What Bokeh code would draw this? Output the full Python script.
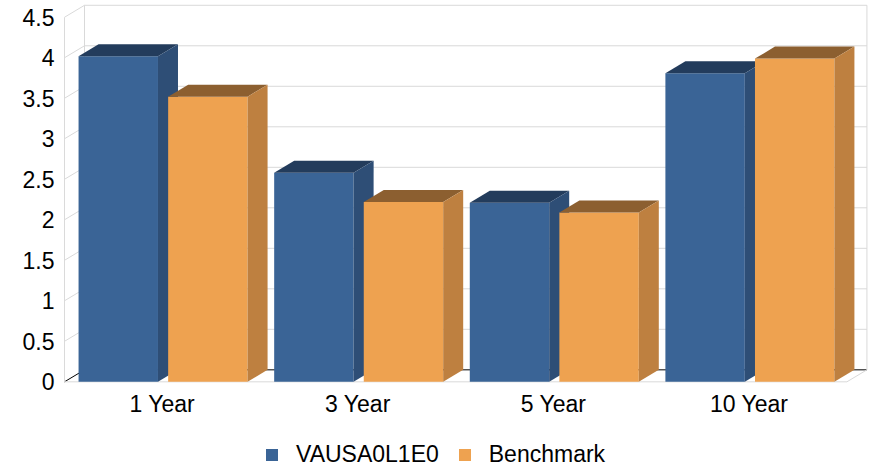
from bokeh.plotting import figure
from bokeh.models import Range1d, FixedTicker, Legend, LegendItem
from bokeh.embed import file_html
from bokeh.resources import INLINE

# ---- data ----
categories = ["1 Year", "3 Year", "5 Year", "10 Year"]
series_names = ["VAUSA0L1E0", "Benchmark"]
fund_values = [4.02, 2.58, 2.21, 3.81]
bench_values = [3.52, 2.22, 2.09, 3.99]
y_ticks = [0, 0.5, 1, 1.5, 2, 2.5, 3, 3.5, 4, 4.5]
y_labels = ["0", "0.5", "1", "1.5", "2", "2.5", "3", "3.5", "4", "4.5"]

# ---- style / geometry ----
FONT = "Liberation Sans"
FS = "23px"
DX = 0.1023    # depth offset in x units
DY = 0.148     # depth offset in y units
GRID = "#d9d9d9"
fund_cols = ("#3a6496", "#233c5c", "#2e4e76")     # front, top, side
bench_cols = ("#eea250", "#8c5f30", "#be8040")
fund_off = (-0.428, -0.022)
bench_off = (0.030, 0.436)

p = figure(width=870, height=468, output_backend="svg", toolbar_location=None,
           x_range=Range1d(-0.505, 3.5 + DX + 0.008), y_range=Range1d(-1.07, 4.67),
           min_border_left=63, min_border_right=2, min_border_top=3, min_border_bottom=0)
p.outline_line_color = None
p.xgrid.visible = False
p.ygrid.visible = False
p.background_fill_color = "white"

xl, xr = -0.5, 3.5
top = y_ticks[-1]

# back wall gridlines and left wall diagonals
for v in y_ticks:
    col = "black" if v == 0 else GRID
    p.segment(x0=[xl + DX], y0=[v + DY], x1=[xr + DX], y1=[v + DY], line_color=col, line_width=1)
    p.segment(x0=[xl], y0=[v], x1=[xl + DX], y1=[v + DY], line_color=col, line_width=1)
# vertical edges
p.segment(x0=[xl, xl + DX, xr + DX], y0=[0, DY, DY], x1=[xl, xl + DX, xr + DX],
          y1=[top, top + DY, top + DY], line_color=GRID, line_width=1)
# floor front edge and right diagonal
p.segment(x0=[xl, xr], y0=[0, 0], x1=[xr, xr + DX], y1=[0, DY], line_color=GRID, line_width=1)


def bars(values, off, cols):
    idx = list(range(len(values)))
    x0 = [i + off[0] for i in idx]
    x1 = [i + off[1] for i in idx]
    front = p.quad(left=x0, right=x1, bottom=[0] * len(values), top=values,
                   fill_color=cols[0], line_color=None)
    p.patches(xs=[[a, b, b + DX, a + DX] for a, b in zip(x0, x1)],
              ys=[[v, v, v + DY, v + DY] for v in values],
              fill_color=cols[1], line_color=None)
    p.patches(xs=[[b, b + DX, b + DX, b] for b in x1],
              ys=[[0, DY, v + DY, v] for v in values],
              fill_color=cols[2], line_color=None)
    return front


r_fund = bars(fund_values, fund_off, fund_cols)
r_bench = bars(bench_values, bench_off, bench_cols)

# axes
p.yaxis.ticker = FixedTicker(ticks=y_ticks)
p.yaxis.major_label_overrides = {t: l for t, l in zip(y_ticks, y_labels)}
p.xaxis.ticker = FixedTicker(ticks=list(range(len(categories))))
p.xaxis.major_label_overrides = {i: c for i, c in enumerate(categories)}
p.xaxis.fixed_location = 0
for ax in (p.xaxis, p.yaxis):
    ax.axis_line_color = None
    ax.major_tick_line_color = None
    ax.minor_tick_line_color = None
    ax.major_tick_out = 0
    ax.major_tick_in = 0
    ax.major_label_text_font = FONT
    ax.major_label_text_font_size = FS
    ax.major_label_text_color = "black"
p.yaxis.major_label_standoff = 9
p.xaxis.major_label_standoff = 9

legend = Legend(items=[LegendItem(label=series_names[0], renderers=[r_fund]),
                       LegendItem(label=series_names[1], renderers=[r_bench])],
                orientation="horizontal", location=(201, 0),
                glyph_width=15, glyph_height=15, label_height=24,
                label_standoff=17, spacing=18, padding=0, margin=0,
                border_line_color=None, background_fill_alpha=0,
                label_text_font=FONT, label_text_font_size=FS, label_text_color="black")
p.add_layout(legend, "center")

open("out.html", "w").write(file_html(p, INLINE))
